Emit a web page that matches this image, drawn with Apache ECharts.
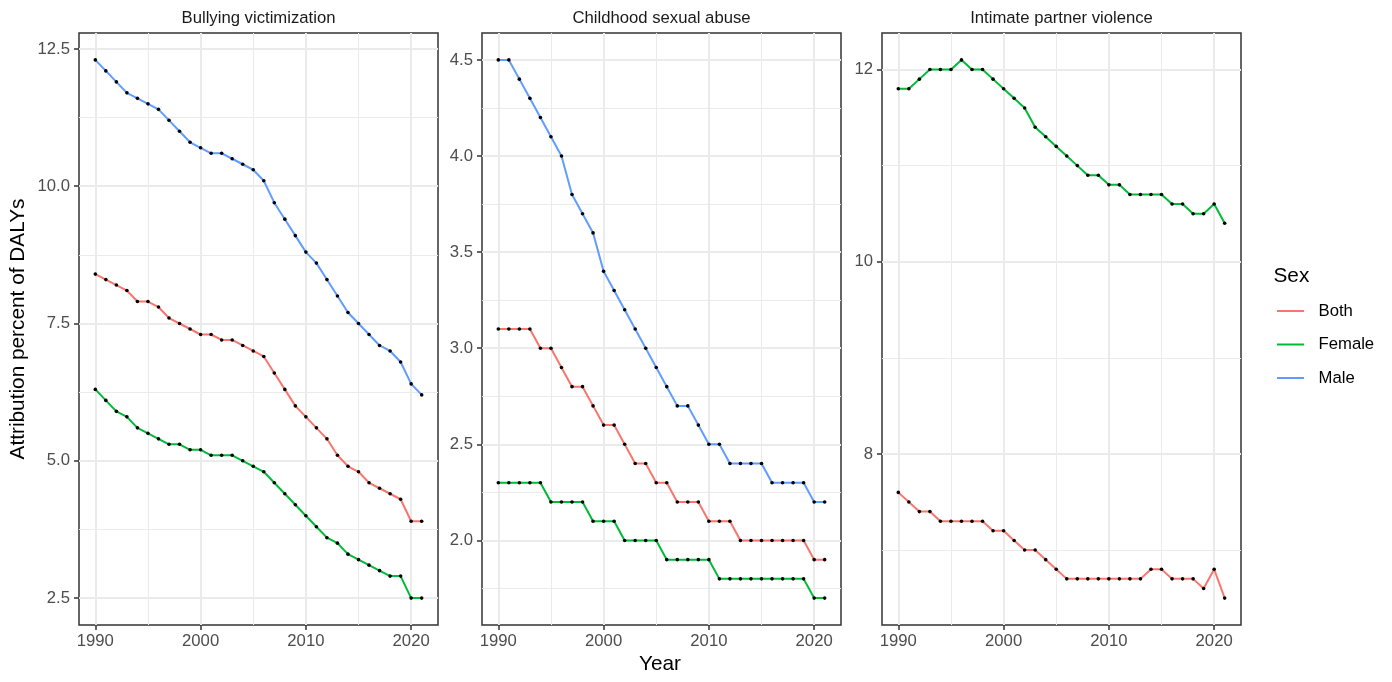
<!DOCTYPE html>
<html>
<head>
<meta charset="utf-8">
<script src="https://cdn.jsdelivr.net/npm/echarts@6/dist/echarts.min.js"></script>
<style>
  html, body { margin: 0; padding: 0; background: #ffffff; }
  #chart { width: 1392px; height: 682px; }
</style>
</head>
<body>
<div id="chart"></div>
<script>
// Attributable share of DALYs by year, sex and risk factor
const years = [1990, 1991, 1992, 1993, 1994, 1995, 1996, 1997, 1998, 1999,
               2000, 2001, 2002, 2003, 2004, 2005, 2006, 2007, 2008, 2009,
               2010, 2011, 2012, 2013, 2014, 2015, 2016, 2017, 2018, 2019,
               2020, 2021];

const bullyingBoth   = [8.4, 8.3, 8.2, 8.1, 7.9, 7.9, 7.8, 7.6, 7.5, 7.4,
                        7.3, 7.3, 7.2, 7.2, 7.1, 7.0, 6.9, 6.6, 6.3, 6.0,
                        5.8, 5.6, 5.4, 5.1, 4.9, 4.8, 4.6, 4.5, 4.4, 4.3,
                        3.9, 3.9];
const bullyingFemale = [6.3, 6.1, 5.9, 5.8, 5.6, 5.5, 5.4, 5.3, 5.3, 5.2,
                        5.2, 5.1, 5.1, 5.1, 5.0, 4.9, 4.8, 4.6, 4.4, 4.2,
                        4.0, 3.8, 3.6, 3.5, 3.3, 3.2, 3.1, 3.0, 2.9, 2.9,
                        2.5, 2.5];
const bullyingMale   = [12.3, 12.1, 11.9, 11.7, 11.6, 11.5, 11.4, 11.2, 11.0, 10.8,
                        10.7, 10.6, 10.6, 10.5, 10.4, 10.3, 10.1, 9.7, 9.4, 9.1,
                        8.8, 8.6, 8.3, 8.0, 7.7, 7.5, 7.3, 7.1, 7.0, 6.8,
                        6.4, 6.2];

const abuseBoth   = [3.1, 3.1, 3.1, 3.1, 3.0, 3.0, 2.9, 2.8, 2.8, 2.7,
                     2.6, 2.6, 2.5, 2.4, 2.4, 2.3, 2.3, 2.2, 2.2, 2.2,
                     2.1, 2.1, 2.1, 2.0, 2.0, 2.0, 2.0, 2.0, 2.0, 2.0,
                     1.9, 1.9];
const abuseFemale = [2.3, 2.3, 2.3, 2.3, 2.3, 2.2, 2.2, 2.2, 2.2, 2.1,
                     2.1, 2.1, 2.0, 2.0, 2.0, 2.0, 1.9, 1.9, 1.9, 1.9,
                     1.9, 1.8, 1.8, 1.8, 1.8, 1.8, 1.8, 1.8, 1.8, 1.8,
                     1.7, 1.7];
const abuseMale   = [4.5, 4.5, 4.4, 4.3, 4.2, 4.1, 4.0, 3.8, 3.7, 3.6,
                     3.4, 3.3, 3.2, 3.1, 3.0, 2.9, 2.8, 2.7, 2.7, 2.6,
                     2.5, 2.5, 2.4, 2.4, 2.4, 2.4, 2.3, 2.3, 2.3, 2.3,
                     2.2, 2.2];

const partnerBoth   = [7.6, 7.5, 7.4, 7.4, 7.3, 7.3, 7.3, 7.3, 7.3, 7.2,
                       7.2, 7.1, 7.0, 7.0, 6.9, 6.8, 6.7, 6.7, 6.7, 6.7,
                       6.7, 6.7, 6.7, 6.7, 6.8, 6.8, 6.7, 6.7, 6.7, 6.6,
                       6.8, 6.5];
const partnerFemale = [11.8, 11.8, 11.9, 12.0, 12.0, 12.0, 12.1, 12.0, 12.0, 11.9,
                       11.8, 11.7, 11.6, 11.4, 11.3, 11.2, 11.1, 11.0, 10.9, 10.9,
                       10.8, 10.8, 10.7, 10.7, 10.7, 10.7, 10.6, 10.6, 10.5, 10.5,
                       10.6, 10.4];

const panelTitles = ['Bullying victimization', 'Childhood sexual abuse', 'Intimate partner violence'];
const sexNames = ['Both', 'Female', 'Male'];

const yearTicks = [1990, 2000, 2010, 2020];
const bullyingTicks = [2.5, 5, 7.5, 10, 12.5];
const bullyingTickLabels = ['2.5', '5.0', '7.5', '10.0', '12.5'];
const abuseTicks = [2, 2.5, 3, 3.5, 4, 4.5];
const abuseTickLabels = ['2.0', '2.5', '3.0', '3.5', '4.0', '4.5'];
const partnerTicks = [8, 10, 12];
const partnerTickLabels = ['8', '10', '12'];

const xTitle = 'Year';
const yTitle = 'Attribution percent of DALYs';
const legendTitle = 'Sex';

// ---- styling ----
const sexColors = { Both: '#F8766D', Female: '#00BA38', Male: '#619CFF' };
const FONT = '"Liberation Sans", Arial, Helvetica, sans-serif';
const TICK_SIZE = 16.7;
const TITLE_SIZE = 20.8;
const panelLefts = [79, 482, 882];
const panelTop = 33;
const panelWidth = 359;
const panelHeight = 592;

const panels = [
  { series: { Both: bullyingBoth, Female: bullyingFemale, Male: bullyingMale },
    ticks: bullyingTicks, labels: bullyingTickLabels },
  { series: { Both: abuseBoth, Female: abuseFemale, Male: abuseMale },
    ticks: abuseTicks, labels: abuseTickLabels },
  { series: { Both: partnerBoth, Female: partnerFemale },
    ticks: partnerTicks, labels: partnerTickLabels }
];

// continuous scale with 5% padding on both sides
function paddedRange(values) {
  const lo = Math.min(...values), hi = Math.max(...values);
  const pad = (hi - lo) * 0.05;
  return [lo - pad, hi + pad];
}
// minor breaks halfway between major breaks, kept inside the range
function minorBreaks(ticks, range) {
  const step = ticks[1] - ticks[0];
  const out = [];
  for (let i = -1; i < ticks.length; i++) {
    const v = ticks[0] + step * (i + 0.5);
    if (v > range[0] && v < range[1]) out.push(v);
  }
  return out;
}

const xRange = paddedRange(years);
const xMinor = minorBreaks(yearTicks, xRange);

const majorLine = { color: '#EBEBEB', width: 2 };
const minorLine = { color: '#EBEBEB', width: 1 };
const tickLine = { color: '#333333', width: 1.5 };

const grids = [], xAxes = [], yAxes = [], series = [], graphics = [];

panels.forEach((p, i) => {
  grids.push({
    left: panelLefts[i], top: panelTop, width: panelWidth, height: panelHeight,
    show: true, borderColor: '#333333', borderWidth: 1.5, backgroundColor: 'transparent',
    containLabel: false, outerBoundsMode: 'none'
  });

  const allVals = [].concat(...Object.values(p.series));
  const yRange = paddedRange(allVals);
  const yMinor = minorBreaks(p.ticks, yRange);

  // major axes: ticks, labels and major grid lines
  xAxes.push({
    type: 'value', gridIndex: i, min: xRange[0], max: xRange[1], position: 'bottom',
    axisLine: { show: false, onZero: false },
    axisTick: { show: true, customValues: yearTicks, length: 5, lineStyle: tickLine },
    axisLabel: { show: true, customValues: yearTicks, formatter: v => String(Math.round(v)),
                 color: '#4D4D4D', fontSize: TICK_SIZE, fontFamily: FONT, margin: 8 },
    splitLine: { show: true, lineStyle: majorLine }
  });
  // companion axes used only for the minor grid lines
  xAxes.push({
    type: 'value', gridIndex: i, min: xRange[0], max: xRange[1], position: 'top',
    axisLine: { show: false, onZero: false },
    axisTick: { show: false, customValues: xMinor },
    axisLabel: { show: false, customValues: xMinor },
    splitLine: { show: true, lineStyle: minorLine }
  });

  yAxes.push({
    type: 'value', gridIndex: i, min: yRange[0], max: yRange[1], position: 'left',
    axisLine: { show: false, onZero: false },
    axisTick: { show: true, customValues: p.ticks, length: 5, lineStyle: tickLine },
    axisLabel: { show: true, customValues: p.ticks,
                 formatter: v => {
                   const k = p.ticks.findIndex(t => Math.abs(t - v) < 1e-9);
                   return k >= 0 ? p.labels[k] : '';
                 },
                 color: '#4D4D4D', fontSize: TICK_SIZE, fontFamily: FONT, margin: 9 },
    splitLine: { show: true, lineStyle: majorLine }
  });
  yAxes.push({
    type: 'value', gridIndex: i, min: yRange[0], max: yRange[1], position: 'right',
    axisLine: { show: false, onZero: false },
    axisTick: { show: false, customValues: yMinor },
    axisLabel: { show: false, customValues: yMinor },
    splitLine: { show: true, lineStyle: minorLine }
  });

  sexNames.forEach(sex => {
    const vals = p.series[sex];
    if (!vals) return;
    series.push({
      name: sex, type: 'line',
      xAxisIndex: 2 * i, yAxisIndex: 2 * i,
      data: years.map((yr, k) => [yr, vals[k]]),
      symbol: 'circle', symbolSize: 3.6, showSymbol: true,
      itemStyle: { color: '#000000' },
      lineStyle: { color: sexColors[sex], width: 2 },
      emphasis: { disabled: true },
      z: 3
    });
  });

  // facet strip title
  graphics.push({
    type: 'text', x: panelLefts[i] + panelWidth / 2, y: 18,
    style: { text: panelTitles[i], fill: '#1A1A1A', font: `${TICK_SIZE}px ${FONT}`,
             textAlign: 'center', textVerticalAlign: 'middle' }
  });
});

// shared axis titles and legend title
graphics.push({
  type: 'text', x: 660, y: 664,
  style: { text: xTitle, fill: '#000000', font: `${TITLE_SIZE}px ${FONT}`,
           textAlign: 'center', textVerticalAlign: 'middle' }
});
graphics.push({
  type: 'text', x: 18, y: 329, rotation: Math.PI / 2,
  style: { text: yTitle, fill: '#000000', font: `${TITLE_SIZE}px ${FONT}`,
           textAlign: 'center', textVerticalAlign: 'middle' }
});
graphics.push({
  type: 'text', x: 1273.5, y: 276,
  style: { text: legendTitle, fill: '#000000', font: `${TITLE_SIZE}px ${FONT}`,
           textAlign: 'left', textVerticalAlign: 'middle' }
});

const chart = echarts.init(document.getElementById('chart'), null, { renderer: 'canvas' });
chart.setOption({
  animation: false,
  backgroundColor: '#ffffff',
  grid: grids,
  xAxis: xAxes,
  yAxis: yAxes,
  series: series,
  legend: {
    orient: 'vertical', left: 1276, top: 302.5, padding: 0,
    itemWidth: 27, itemHeight: 14, itemGap: 16.5,
    data: sexNames, selectedMode: false,
    itemStyle: { opacity: 0 },
    textStyle: { fontSize: TICK_SIZE, fontFamily: FONT, color: '#000000', padding: [0, 0, 0, 9.5] }
  },
  tooltip: { show: false },
  graphic: graphics
});
</script>
</body>
</html>
